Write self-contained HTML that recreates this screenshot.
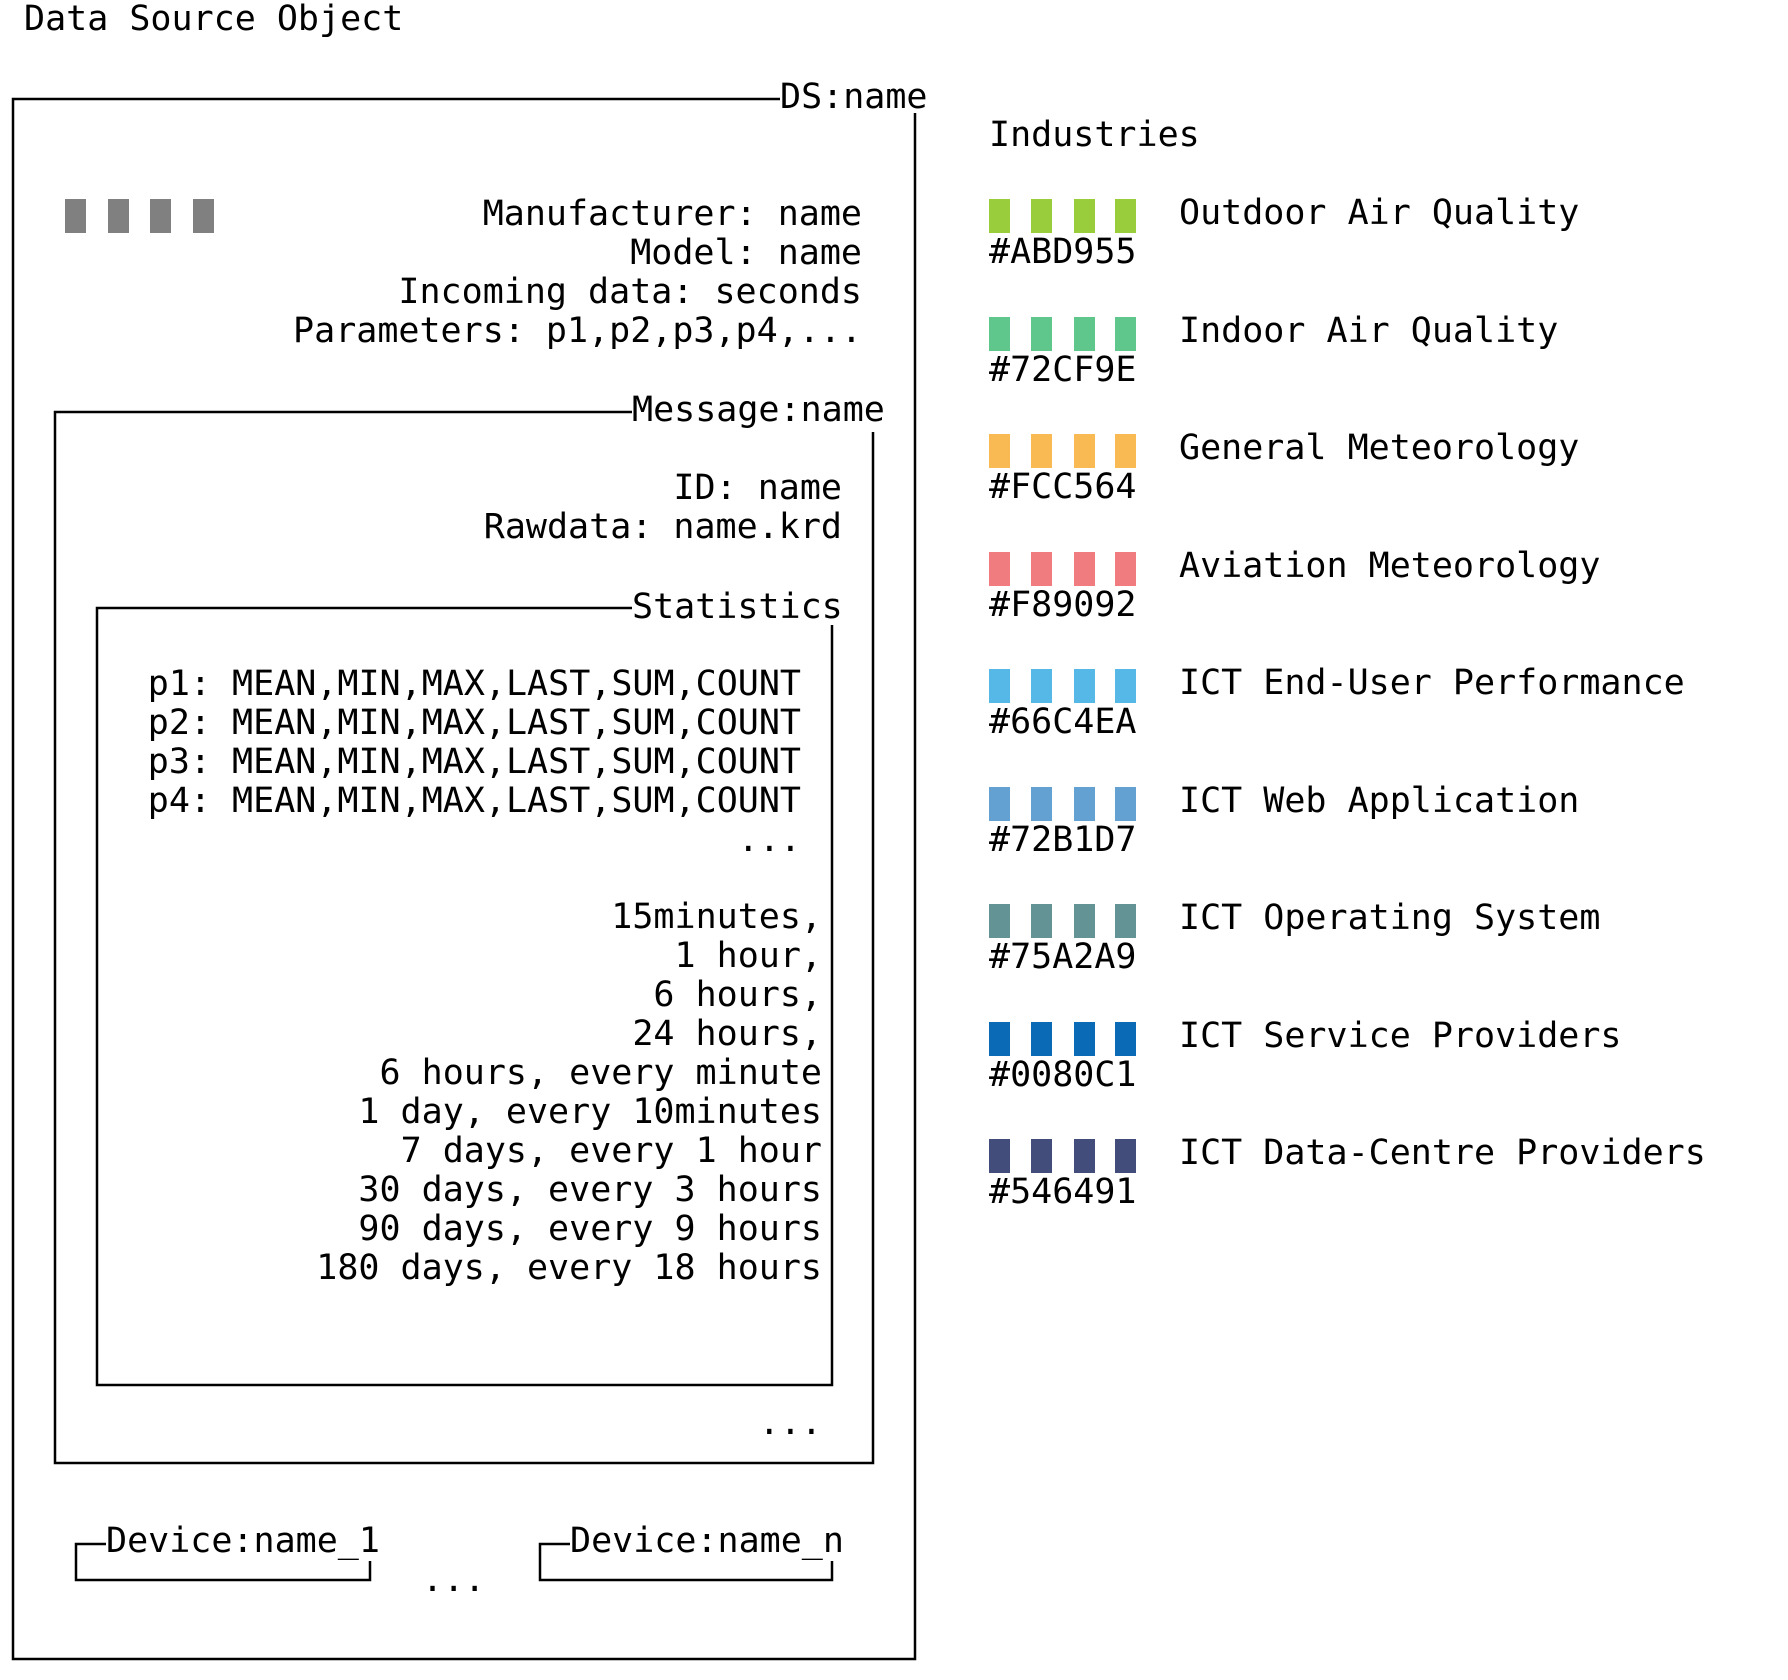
<!DOCTYPE html>
<html><head><meta charset="utf-8"><style>
html,body{margin:0;padding:0;background:#fff;}
body{width:1788px;height:1680px;position:relative;overflow:hidden;font-family:"DejaVu Sans Mono","Liberation Mono",monospace;font-size:35px;color:#000;}
.t{position:absolute;white-space:pre;line-height:39px;height:39px;}
.r{text-align:right;}
.sq{position:absolute;width:21px;height:34px;}
svg{position:absolute;left:0;top:0;}
</style></head><body>
<svg width="1788" height="1680">
<g stroke="#000" stroke-width="2.5" fill="none">
<polyline points="780,99 13,99 13,1659 915,1659 915,113"/>
<polyline points="632,412 55,412 55,1463 873,1463 873,432"/>
<polyline points="632,608 97,608 97,1385 832,1385 832,625"/>
<polyline points="106,1544 76,1544 76,1580 370,1580 370,1561"/>
<polyline points="570,1544 540,1544 540,1580 832,1580 832,1561"/>
</g>
</svg>
<div class="t" style="left:24px;top:0px">Data Source Object</div>
<div class="t" style="left:780px;top:78px">DS:name</div>
<div class="t" style="left:632px;top:391px">Message:name</div>
<div class="t" style="left:632px;top:588px">Statistics</div>
<div class="t" style="left:106px;top:1522px">Device:name_1</div>
<div class="t" style="left:570px;top:1522px">Device:name_n</div>
<div class="t" style="left:422px;top:1561px">...</div>

<div class="sq" style="left:65px;top:199px;background:#808080"></div>
<div class="sq" style="left:108px;top:199px;background:#808080"></div>
<div class="sq" style="left:150px;top:199px;background:#808080"></div>
<div class="sq" style="left:193px;top:199px;background:#808080"></div>

<div class="t r" style="right:926px;top:195px">Manufacturer: name</div>
<div class="t r" style="right:926px;top:234px">Model: name</div>
<div class="t r" style="right:926px;top:273px">Incoming data: seconds</div>
<div class="t r" style="right:926px;top:312px">Parameters: p1,p2,p3,p4,...</div>

<div class="t r" style="right:946px;top:469px">ID: name</div>
<div class="t r" style="right:946px;top:508px">Rawdata: name.krd</div>

<div class="t r" style="right:987px;top:665px">p1: MEAN,MIN,MAX,LAST,SUM,COUNT</div>
<div class="t r" style="right:987px;top:704px">p2: MEAN,MIN,MAX,LAST,SUM,COUNT</div>
<div class="t r" style="right:987px;top:743px">p3: MEAN,MIN,MAX,LAST,SUM,COUNT</div>
<div class="t r" style="right:987px;top:782px">p4: MEAN,MIN,MAX,LAST,SUM,COUNT</div>
<div class="t r" style="right:987px;top:821px">...</div>

<div class="t r" style="right:966px;top:898px">15minutes,</div>
<div class="t r" style="right:966px;top:937px">1 hour,</div>
<div class="t r" style="right:966px;top:976px">6 hours,</div>
<div class="t r" style="right:966px;top:1015px">24 hours,</div>
<div class="t r" style="right:966px;top:1054px">6 hours, every minute</div>
<div class="t r" style="right:966px;top:1093px">1 day, every 10minutes</div>
<div class="t r" style="right:966px;top:1132px">7 days, every 1 hour</div>
<div class="t r" style="right:966px;top:1171px">30 days, every 3 hours</div>
<div class="t r" style="right:966px;top:1210px">90 days, every 9 hours</div>
<div class="t r" style="right:966px;top:1249px">180 days, every 18 hours</div>
<div class="t r" style="right:966px;top:1404px">...</div>

<div class="t" style="left:989px;top:116px">Industries</div>

<div class="sq" style="left:989px;top:199px;background:#9ACD3C"></div><div class="sq" style="left:1031px;top:199px;background:#9ACD3C"></div><div class="sq" style="left:1074px;top:199px;background:#9ACD3C"></div><div class="sq" style="left:1115px;top:199px;background:#9ACD3C"></div>
<div class="t" style="left:1179px;top:194px">Outdoor Air Quality</div><div class="t" style="left:989px;top:233px">#ABD955</div>

<div class="sq" style="left:989px;top:317px;background:#5FC68C"></div><div class="sq" style="left:1031px;top:317px;background:#5FC68C"></div><div class="sq" style="left:1074px;top:317px;background:#5FC68C"></div><div class="sq" style="left:1115px;top:317px;background:#5FC68C"></div>
<div class="t" style="left:1179px;top:312px">Indoor Air Quality</div><div class="t" style="left:989px;top:351px">#72CF9E</div>

<div class="sq" style="left:989px;top:434px;background:#F9B953"></div><div class="sq" style="left:1031px;top:434px;background:#F9B953"></div><div class="sq" style="left:1074px;top:434px;background:#F9B953"></div><div class="sq" style="left:1115px;top:434px;background:#F9B953"></div>
<div class="t" style="left:1179px;top:429px">General Meteorology</div><div class="t" style="left:989px;top:468px">#FCC564</div>

<div class="sq" style="left:989px;top:552px;background:#F07C80"></div><div class="sq" style="left:1031px;top:552px;background:#F07C80"></div><div class="sq" style="left:1074px;top:552px;background:#F07C80"></div><div class="sq" style="left:1115px;top:552px;background:#F07C80"></div>
<div class="t" style="left:1179px;top:547px">Aviation Meteorology</div><div class="t" style="left:989px;top:586px">#F89092</div>

<div class="sq" style="left:989px;top:669px;background:#55B8E6"></div><div class="sq" style="left:1031px;top:669px;background:#55B8E6"></div><div class="sq" style="left:1074px;top:669px;background:#55B8E6"></div><div class="sq" style="left:1115px;top:669px;background:#55B8E6"></div>
<div class="t" style="left:1179px;top:664px">ICT End-User Performance</div><div class="t" style="left:989px;top:703px">#66C4EA</div>

<div class="sq" style="left:989px;top:787px;background:#62A1D2"></div><div class="sq" style="left:1031px;top:787px;background:#62A1D2"></div><div class="sq" style="left:1074px;top:787px;background:#62A1D2"></div><div class="sq" style="left:1115px;top:787px;background:#62A1D2"></div>
<div class="t" style="left:1179px;top:782px">ICT Web Application</div><div class="t" style="left:989px;top:821px">#72B1D7</div>

<div class="sq" style="left:989px;top:904px;background:#649396"></div><div class="sq" style="left:1031px;top:904px;background:#649396"></div><div class="sq" style="left:1074px;top:904px;background:#649396"></div><div class="sq" style="left:1115px;top:904px;background:#649396"></div>
<div class="t" style="left:1179px;top:899px">ICT Operating System</div><div class="t" style="left:989px;top:938px">#75A2A9</div>

<div class="sq" style="left:989px;top:1022px;background:#0A6AB5"></div><div class="sq" style="left:1031px;top:1022px;background:#0A6AB5"></div><div class="sq" style="left:1074px;top:1022px;background:#0A6AB5"></div><div class="sq" style="left:1115px;top:1022px;background:#0A6AB5"></div>
<div class="t" style="left:1179px;top:1017px">ICT Service Providers</div><div class="t" style="left:989px;top:1056px">#0080C1</div>

<div class="sq" style="left:989px;top:1139px;background:#424D7B"></div><div class="sq" style="left:1031px;top:1139px;background:#424D7B"></div><div class="sq" style="left:1074px;top:1139px;background:#424D7B"></div><div class="sq" style="left:1115px;top:1139px;background:#424D7B"></div>
<div class="t" style="left:1179px;top:1134px">ICT Data-Centre Providers</div><div class="t" style="left:989px;top:1173px">#546491</div>
</body></html>
